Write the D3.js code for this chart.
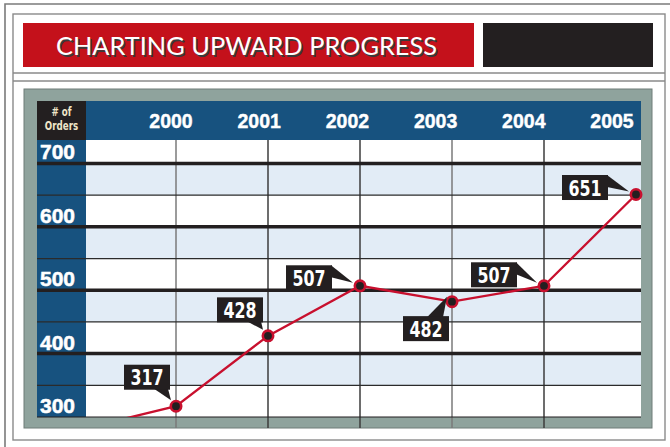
<!DOCTYPE html>
<html>
<head>
<meta charset="utf-8">
<script src="https://cdn.jsdelivr.net/npm/d3@7"></script>
<style>
  body { margin: 0; background: #fff; }
  svg { display: block; }
</style>
</head>
<body>
<div id="chart"></div>
<script>
// data (1999 is off the chart, only its segment shows)
const years = [1999, 2000, 2001, 2002, 2003, 2004, 2005];
const orders = [282, 317, 428, 507, 482, 507, 651];
const labelledYears = [2000, 2001, 2002, 2003, 2004, 2005];
const yTicks = [700, 600, 500, 400, 300];
const yMinor = [650, 550, 450, 350];
const title = "CHARTING UPWARD PROGRESS";

// callout layout per labelled point: box centre offset + pointer side
const callouts = [
  { dx: -29, dy: -29, side: "down" },
  { dx: -28, dy: -26, side: "down" },
  { dx: -51, dy: -8, side: "right" },
  { dx: -26, dy: 27, side: "up" },
  { dx: -50, dy: -11, side: "right" },
  { dx: -51, dy: -7, side: "right" }
];

const W = 670, H = 447;
const svg = d3.select("#chart").append("svg").attr("width", W).attr("height", H);

// frames
svg.append("path").attr("d", "M5,447 V4 H670").attr("fill", "none")
  .attr("stroke", "#7b7b7b").attr("stroke-width", 1.6);
svg.append("rect").attr("x", 13).attr("y", 14).attr("width", 652).attr("height", 426)
  .attr("fill", "#fff").attr("stroke", "#8a8a8a").attr("stroke-width", 1.4);
[73, 81].forEach(y => svg.append("line").attr("x1", 13).attr("x2", 665)
  .attr("y1", y).attr("y2", y).attr("stroke", "#8a8a8a").attr("stroke-width", 1.4));

// title banner
svg.append("rect").attr("x", 23).attr("y", 23).attr("width", 451).attr("height", 44).attr("fill", "#c4111b");
svg.append("rect").attr("x", 483).attr("y", 23).attr("width", 170).attr("height", 44).attr("fill", "#231f20");
const tFont = "'Gill Sans', 'Lato', 'Open Sans', sans-serif";
svg.append("text").attr("x", 57.5).attr("y", 56.5).text(title)
  .attr("font-family", tFont).attr("font-size", 24.5).attr("fill", "#3a3a3a")
  .attr("textLength", 381).attr("lengthAdjust", "spacingAndGlyphs");
svg.append("text").attr("x", 56).attr("y", 55).text(title)
  .attr("font-family", tFont).attr("font-size", 24.5).attr("fill", "#fff")
  .attr("textLength", 381).attr("lengthAdjust", "spacingAndGlyphs");

// gray panel
svg.append("rect").attr("x", 24).attr("y", 89).attr("width", 628).attr("height", 339)
  .attr("fill", "#8fa39d").attr("stroke", "#6f7d79").attr("stroke-width", 1);

const plot = { l: 86, r: 641, t: 140, b: 417 };
const x = d3.scaleLinear().domain([2000, 2005]).range([176, 636]);
const xLab = d3.scalePoint().domain(labelledYears).range([171, 612]);
const y = d3.scaleLinear().domain([300, 737]).range([plot.b, plot.t]);

// header row + corner + left column
svg.append("rect").attr("x", 37).attr("y", 101).attr("width", plot.r - 37).attr("height", 39).attr("fill", "#17527f");
svg.append("rect").attr("x", 37).attr("y", 101).attr("width", 49).attr("height", 39).attr("fill", "#231f20");
svg.append("rect").attr("x", 37).attr("y", plot.t).attr("width", 49).attr("height", plot.b - plot.t).attr("fill", "#17527f");
const nFont = "'Liberation Sans Narrow', 'DejaVu Sans Condensed', 'Arial Narrow', sans-serif";
[["# of", 115.5], ["Orders", 129.8]].forEach(([t, ty]) => {
  svg.append("text").attr("transform", `translate(61.5,${ty}) scale(0.82,1)`)
    .attr("text-anchor", "middle").text(t)
    .attr("font-family", nFont).attr("font-weight", "bold").attr("font-size", 11.8).attr("fill", "#efe5c8");
});

// plot background: white rows with light blue bands
svg.append("rect").attr("x", plot.l).attr("y", plot.t).attr("width", plot.r - plot.l)
  .attr("height", plot.b - plot.t).attr("fill", "#fff");
svg.selectAll(".band").data(yMinor).enter().append("rect")
  .attr("x", plot.l).attr("width", plot.r - plot.l)
  .attr("y", d => y(d + 50)).attr("height", d => y(d) - y(d + 50))
  .attr("fill", "#e2ecf6");

// vertical grid
svg.selectAll(".vline").data(labelledYears.slice(0, 5)).enter().append("line")
  .attr("x1", d => x(d)).attr("x2", d => x(d)).attr("y1", plot.t).attr("y2", 428)
  .attr("stroke", (d, i) => i % 3 === 0 ? "#7a7a7a" : "#3c3c3c").attr("stroke-width", 1.5);

// horizontal grid
svg.selectAll(".minor").data(yMinor).enter().append("line")
  .attr("x1", 37).attr("x2", plot.r).attr("y1", d => y(d)).attr("y2", d => y(d))
  .attr("stroke", "#2b2b2b").attr("stroke-width", 1.2);
svg.selectAll(".major").data(yTicks.slice(0, 4)).enter().append("line")
  .attr("x1", 37).attr("x2", plot.r).attr("y1", d => y(d)).attr("y2", d => y(d))
  .attr("stroke", "#231f20").attr("stroke-width", 3.5);
svg.append("line").attr("x1", 37).attr("x2", plot.r).attr("y1", plot.b).attr("y2", plot.b)
  .attr("stroke", "#231f20").attr("stroke-width", 1.2);

// axis labels
const aFont = "'Liberation Sans', Arial, sans-serif";
svg.selectAll(".ylab").data(yTicks).enter().append("text")
  .attr("x", 40).attr("y", d => y(d) - 4).text(d => d)
  .attr("font-family", aFont).attr("font-weight", "bold").attr("font-size", 21)
  .attr("fill", "#fff").attr("stroke", "#fff").attr("stroke-width", 0.5);
svg.selectAll(".xlab").data(labelledYears).enter().append("text")
  .attr("x", d => xLab(d)).attr("y", 127.5).attr("text-anchor", "middle").text(d => d)
  .attr("font-family", aFont).attr("font-weight", "bold").attr("font-size", 19.5)
  .attr("fill", "#fff").attr("stroke", "#fff").attr("stroke-width", 0.4);

// line, clipped to the plot
svg.append("clipPath").attr("id", "clip").append("rect")
  .attr("x", plot.l).attr("y", plot.t).attr("width", plot.r - plot.l).attr("height", plot.b - plot.t);
const pts = years.map((yr, i) => ({ yr, v: orders[i] }));
svg.append("path").datum(pts).attr("clip-path", "url(#clip)")
  .attr("d", d3.line().x(d => x(d.yr)).y(d => y(d.v)))
  .attr("fill", "none").attr("stroke", "#c8102e").attr("stroke-width", 2.3);

const shown = pts.filter(d => labelledYears.includes(d.yr));
svg.selectAll(".dot").data(shown).enter().append("circle")
  .attr("cx", d => x(d.yr)).attr("cy", d => y(d.v)).attr("r", 5.2)
  .attr("fill", "#231f20").attr("stroke", "#c8102e").attr("stroke-width", 2.6);

// callouts
const bw = 46, bh = 25;
shown.forEach((d, i) => {
  const c = callouts[i];
  const px = x(d.yr), py = y(d.v);
  const cx = px + c.dx, cy = py + c.dy;
  const L = cx - bw / 2, R = cx + bw / 2, T = cy - bh / 2, B = cy + bh / 2;
  let tri;
  if (c.side === "down") tri = [[R - 16, B - 1], [R - 2, B - 1], [px - 5, py - 6]];
  else if (c.side === "up") tri = [[R - 22, T + 1], [R - 6, T + 1], [px - 5, py - 5]];
  else tri = [[R - 1, T], [R - 1, T + 12], [px - 7, py - 3]];
  const g = svg.append("g");
  g.append("polygon").attr("points", tri.map(p => p.join(",")).join(" ")).attr("fill", "#231f20");
  g.append("rect").attr("x", L).attr("y", T).attr("width", bw).attr("height", bh).attr("fill", "#231f20");
  g.append("text").attr("transform", `translate(${cx},${cy + 8}) scale(0.82,1)`)
    .attr("text-anchor", "middle").text(d.v)
    .attr("font-family", nFont).attr("font-weight", "bold").attr("font-size", 21.5).attr("fill", "#fff");
});
</script>
</body>
</html>
